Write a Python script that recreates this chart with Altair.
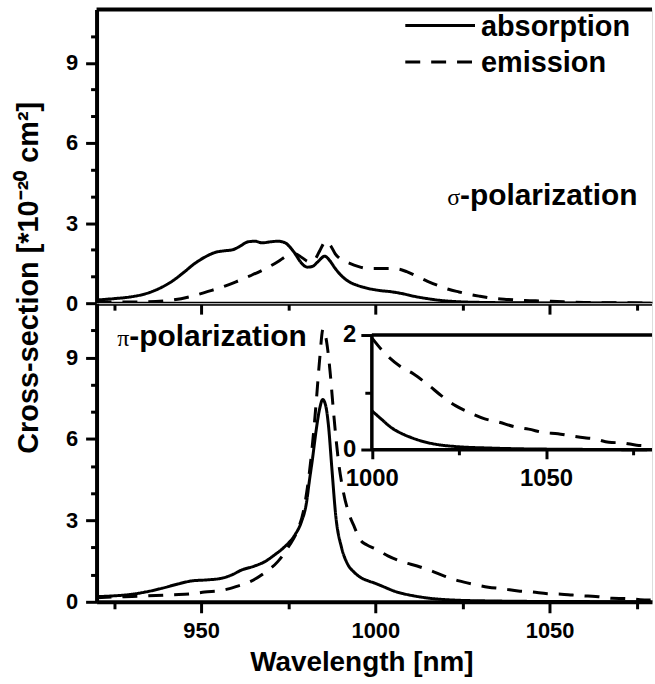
import altair as alt
import pandas as pd

FONT = "Liberation Sans"
SERIF = "Liberation Serif"

# ---------------- data ----------------
sigma_abs_wl = [920, 925, 930, 934, 938, 942, 945, 948, 951, 954, 956.5, 959, 961, 963.5, 965.5, 967.5,
                970, 972, 974, 975.5, 977, 978.5, 980.5, 982, 983.5, 985.5, 987, 988.5, 990.5, 992.5,
                995, 998, 1001, 1005, 1008, 1011, 1015, 1019, 1023, 1030, 1040, 1060, 1079]
sigma_abs_val = [0.12, 0.17, 0.24, 0.35, 0.55, 0.85, 1.15, 1.47, 1.72, 1.90, 1.96, 2.0, 2.12, 2.3, 2.32, 2.26,
                 2.3, 2.32, 2.27, 2.1, 1.85, 1.55, 1.35, 1.38, 1.55, 1.76, 1.58, 1.3, 1.0, 0.8,
                 0.66, 0.55, 0.48, 0.42, 0.35, 0.26, 0.17, 0.1, 0.06, 0.03, 0.015, 0.005, 0.0]

sigma_em_wl = [920, 930, 937, 942, 947, 952, 956, 960, 964, 968, 972, 975, 977, 979, 981, 982.5, 984,
               985.8, 987.2, 988.5, 990, 992.5, 995, 998, 1001, 1004, 1006.5, 1009, 1012, 1015, 1018,
               1021, 1024, 1027, 1030, 1034, 1038, 1043, 1048, 1054, 1060, 1070, 1079]
sigma_em_val = [0.05, 0.04, 0.06, 0.12, 0.25, 0.44, 0.6, 0.8, 1.02, 1.26, 1.55, 1.8, 1.85, 1.7, 1.55, 1.62, 1.95,
                2.32, 2.15, 1.85, 1.65, 1.5, 1.38, 1.3, 1.3, 1.3, 1.28, 1.18, 1.0, 0.82, 0.66,
                0.52, 0.42, 0.33, 0.26, 0.18, 0.14, 0.1, 0.08, 0.05, 0.03, 0.015, 0.01]

pi_abs_wl = [920, 925, 929, 934, 938.8, 943.5, 947.3, 952, 956, 958.8, 961.6, 965.4, 968.3, 971, 974,
             976.9, 978.8, 980.2, 981.1, 982, 983, 984, 984.9, 985.8, 986.6, 987.5, 988.7, 990.3, 992,
             994, 996, 998, 1000, 1003, 1005.5, 1008, 1011, 1015, 1019, 1024, 1034, 1045, 1055, 1079]
pi_abs_val = [0.19, 0.22, 0.26, 0.36, 0.50, 0.66, 0.77, 0.81, 0.87, 0.99, 1.17, 1.32, 1.48, 1.72, 2.03,
              2.46, 2.95, 3.62, 4.48, 5.3, 6.3, 7.1, 7.45, 7.2, 6.43, 4.96, 3.1, 2.0, 1.4,
              1.08, 0.88, 0.77, 0.68, 0.52, 0.39, 0.3, 0.22, 0.14, 0.09, 0.057, 0.03, 0.015, 0.01, 0.0]

pi_em_wl = [920, 928, 933, 942, 947, 951, 956, 960, 964, 968, 972, 975.4, 977.7, 979.3, 980.5, 981.8, 983,
            984, 985, 986, 987, 988, 989.4, 990.9, 992.3, 994, 995.6, 997.5, 1000, 1003.6, 1008, 1012,
            1016, 1020, 1024, 1028, 1032.4, 1036.6, 1041, 1045, 1049.4, 1053.4, 1056.5, 1061, 1064,
            1068, 1072, 1076, 1079]
pi_em_val = [0.15, 0.19, 0.21, 0.26, 0.29, 0.36, 0.42, 0.56, 0.74, 1.05, 1.48, 2.09, 2.64, 3.3, 4.2, 5.6, 7.3,
             8.9, 10.05, 9.6, 8.5, 7.0, 5.2, 4.0, 3.3, 2.75, 2.3, 2.1, 1.95, 1.69, 1.46, 1.32,
             1.14, 0.94, 0.77, 0.65, 0.54, 0.48, 0.40, 0.36, 0.30, 0.28, 0.25, 0.21, 0.19,
             0.13, 0.12, 0.08, 0.07]

series_names = ["absorption", "emission"]
x_major = [950, 1000, 1050]
x_minor = [925, 975, 1025, 1075]
y_major = [0, 3, 6, 9]
y_minor = [1, 2, 4, 5, 7, 8, 10]
inset_x_major = [1000, 1050]
inset_x_minor = [1025, 1075]
inset_y_major = [0, 2]
inset_y_minor = [1]
inset_start = 1000

y_title = "Cross-section [*10\u207b\u00b2\u2070 cm\u00b2]"
x_title = "Wavelength [nm]"

# ---------------- layout constants ----------------
W = 558
H_TOP = 295
H_BOT = 300
X_DOMAIN = [920, 1079.4]
Y_DOMAIN = [0, 11]
INSET_X_DOMAIN = [921, 1080.4]
INSET_Y_DOMAIN = [-2.649, 2.555]
INSET_X_OFFSET = -152.7
INSET_Y_OFFSET = -276.5
# legend placement (in data units of the top panel)
LEG_X0, LEG_X1, LEG_TX = 1008.6, 1028.6, 1030.3
LEG_LINE_Y = [10.4, 9.03]
LEG_TEXT_Y = [10.0, 8.67]


def frame(wl, val, name):
    return pd.DataFrame({"x": wl, "y": val, "series": name})


sigma_df = pd.concat([frame(sigma_abs_wl, sigma_abs_val, series_names[0]),
                      frame(sigma_em_wl, sigma_em_val, series_names[1])])
pi_df = pd.concat([frame(pi_abs_wl, pi_abs_val, series_names[0]),
                   frame(pi_em_wl, pi_em_val, series_names[1])])
inset_df = pi_df[pi_df["x"] >= inset_start]

dash_scale = alt.Scale(domain=series_names, range=[[1, 0], [15, 11]])

label_style = dict(labelFont=FONT, labelFontWeight="bold", labelColor="black")
line_style = dict(domainColor="black", tickColor="black", domainWidth=4, tickWidth=3, grid=False)


def sx(domain):
    return alt.Scale(domain=domain, nice=False, zero=False)


# major axes
x_main_top = alt.X("x:Q", scale=sx(X_DOMAIN),
                   axis=alt.Axis(values=x_major, labels=False, title=None, tickSize=11, **line_style))
x_main_bot = alt.X("x:Q", scale=sx(X_DOMAIN),
                   axis=alt.Axis(values=x_major, format="d", tickSize=11,
                                 labelFontSize=22, labelPadding=8, labelFlush=False,
                                 title=x_title, titleFont=FONT, titleFontSize=28, titleFontWeight="bold",
                                 titleColor="black", titlePadding=7, titleX=266, titleAlign="center",
                                 **label_style, **line_style))


def y_main(with_title):
    if with_title:
        extra = dict(title=y_title, titleFont=FONT, titleFontSize=29, titleFontWeight="bold",
                     titleColor="black", titleAngle=270, titleAlign="center",
                     titleBaseline="alphabetic", titleX=-59, titleY=-26)
    else:
        extra = dict(title=None)
    return alt.Y("y:Q", scale=sx(Y_DOMAIN),
                 axis=alt.Axis(values=y_major, tickSize=11, labelFontSize=22, labelPadding=8,
                               **label_style, **line_style, **extra))


y_top = y_main(False)
y_bot = y_main(True)


def minor_layer(xdom, ydom, xvals, yvals, xsize, ysize, xoff=0, yoff=0):
    """Invisible layer whose only job is to carry the shorter (minor) ticks."""
    df = pd.DataFrame({"x": [xvals[0]], "y": [yvals[0]]})
    return alt.Chart(df).mark_point(opacity=0).encode(
        x=alt.X("x:Q", scale=sx(xdom),
                axis=alt.Axis(orient="bottom", offset=xoff, values=xvals, tickSize=xsize, labels=False,
                              domain=False, title=None, **line_style)),
        y=alt.Y("y:Q", scale=sx(ydom),
                axis=alt.Axis(orient="left", offset=yoff, values=yvals, tickSize=ysize, labels=False,
                              domain=False, title=None, **line_style)))


line_mark = dict(color="black", strokeWidth=3, interpolate="monotone", clip=True)

# ---------------- top panel (sigma) ----------------
top_lines = alt.Chart(sigma_df).mark_line(**line_mark).encode(
    x=x_main_top, y=y_top,
    strokeDash=alt.StrokeDash("series:N", scale=dash_scale, legend=None),
    order="x:Q")

top_border = alt.Chart(pd.DataFrame({"y": [Y_DOMAIN[1]]})).mark_rule(color="black", strokeWidth=4).encode(y=y_top)

leg_lines_df = pd.DataFrame({"x": [LEG_X0] * 2, "x2": [LEG_X1] * 2, "y": LEG_LINE_Y, "series": series_names})
leg_text_df = pd.DataFrame({"x": [LEG_TX] * 2, "y": LEG_TEXT_Y, "series": series_names})
leg_lines = alt.Chart(leg_lines_df).mark_rule(color="black", strokeWidth=3).encode(
    x=x_main_top, x2="x2:Q", y=y_top,
    strokeDash=alt.StrokeDash("series:N", scale=dash_scale, legend=None))
leg_text = alt.Chart(leg_text_df).mark_text(
    align="left", baseline="alphabetic", font=FONT, fontSize=29, fontWeight="bold", color="black").encode(
    x=x_main_top, y=y_top, text="series:N")

sig_sym = alt.Chart(pd.DataFrame({"x": [1024.3], "y": [3.69], "t": ["\u03c3"]})).mark_text(
    align="right", baseline="alphabetic", font=SERIF, fontSize=24, color="black").encode(
    x=x_main_top, y=y_top, text="t:N")
sig_txt = alt.Chart(pd.DataFrame({"x": [1024.3], "y": [3.69], "t": ["-polarization"]})).mark_text(
    align="left", baseline="alphabetic", font=FONT, fontSize=30, fontWeight="bold", color="black").encode(
    x=x_main_top, y=y_top, text="t:N")

top_main = alt.layer(top_lines, top_border, leg_lines, leg_text, sig_sym, sig_txt)
top_minor = minor_layer(X_DOMAIN, Y_DOMAIN, x_minor, y_minor, 7, 6)
top = alt.layer(top_main, top_minor).resolve_scale(x="independent", y="independent").properties(
    width=W, height=H_TOP)

# ---------------- bottom panel (pi) ----------------
bot_lines = alt.Chart(pi_df).mark_line(**line_mark).encode(
    x=x_main_bot, y=y_bot,
    strokeDash=alt.StrokeDash("series:N", scale=dash_scale, legend=None),
    order="x:Q")
pi_sym = alt.Chart(pd.DataFrame({"x": [929.4], "y": [9.42], "t": ["\u03c0"]})).mark_text(
    align="right", baseline="alphabetic", font=SERIF, fontSize=24, color="black").encode(
    x=x_main_bot, y=y_bot, text="t:N")
pi_txt = alt.Chart(pd.DataFrame({"x": [929.4], "y": [9.42], "t": ["-polarization"]})).mark_text(
    align="left", baseline="alphabetic", font=FONT, fontSize=30, fontWeight="bold", color="black").encode(
    x=x_main_bot, y=y_bot, text="t:N")
bot_main = alt.layer(bot_lines, pi_sym, pi_txt)
bot_minor = minor_layer(X_DOMAIN, Y_DOMAIN, x_minor, y_minor, 7, 6)

# inset
x_inset = alt.X("x:Q", scale=sx(INSET_X_DOMAIN),
                axis=alt.Axis(orient="bottom", offset=INSET_X_OFFSET, values=inset_x_major, format="d",
                              tickSize=9, domain=False, title=None, labelFontSize=24, labelPadding=8,
                              labelFlush=False, **label_style, **line_style))
y_inset = alt.Y("y:Q", scale=sx(INSET_Y_DOMAIN),
                axis=alt.Axis(orient="left", offset=INSET_Y_OFFSET, values=inset_y_major,
                              tickSize=11, domain=False, title=None, labelFontSize=24, labelPadding=5,
                              **label_style, **line_style))

inset_lines = alt.Chart(inset_df).mark_line(**line_mark).encode(
    x=x_inset, y=y_inset,
    strokeDash=alt.StrokeDash("series:N", scale=dash_scale, legend=None),
    order="x:Q")
frame_df = pd.DataFrame({
    "x": [inset_start, inset_start, inset_start],
    "x2": [INSET_X_DOMAIN[1], inset_start, INSET_X_DOMAIN[1]],
    "y": [2, 0, 0],
    "y2": [2, 2, 0],
})
inset_frame = alt.Chart(frame_df).mark_rule(color="black", strokeWidth=3.5).encode(
    x=x_inset, x2="x2:Q", y=y_inset, y2="y2:Q")
inset = alt.layer(inset_lines, inset_frame)
inset_minor = minor_layer(INSET_X_DOMAIN, INSET_Y_DOMAIN, inset_x_minor, inset_y_minor, 5, 7,
                          INSET_X_OFFSET, INSET_Y_OFFSET)

bottom = alt.layer(bot_main, bot_minor, inset, inset_minor).resolve_scale(
    x="independent", y="independent").properties(width=W, height=H_BOT)

chart = alt.vconcat(top, bottom, spacing=0, bounds="flush").properties(
    padding={"left": 14, "top": 5, "right": 0, "bottom": 5},
).configure_view(stroke=None).configure(font=FONT, background="white")

chart.save("out.html", embed_options={"renderer": "svg", "actions": False})
